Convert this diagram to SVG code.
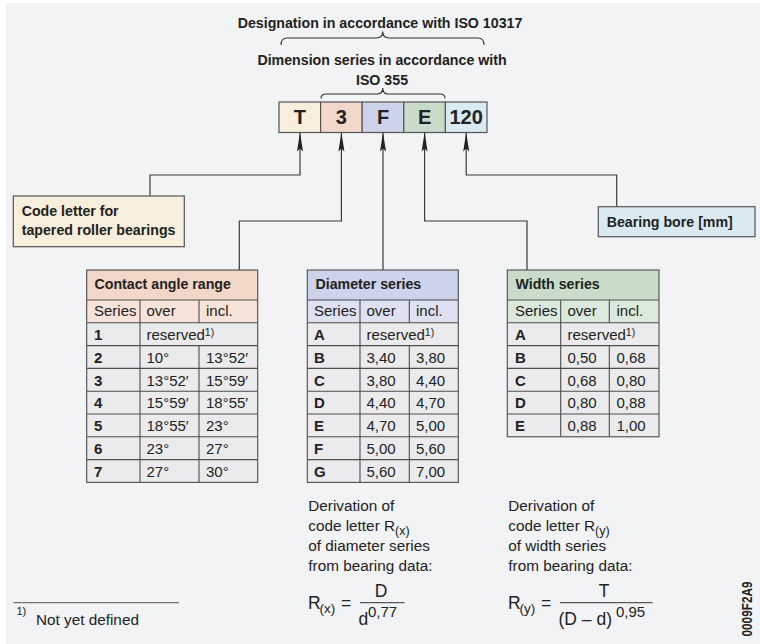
<svg xmlns="http://www.w3.org/2000/svg" width="760" height="644" viewBox="0 0 760 644">
<defs>
<style>
text{font-family:"Liberation Sans",Arial,sans-serif;fill:#222}
.b{font-weight:bold;font-size:14.2px}
.t{font-size:15px}
.tb{font-size:15px;font-weight:bold}
.d{font-size:15.3px}
.f{font-size:17.5px}
.sup{font-size:10.5px}
.code{font-size:20px;font-weight:bold;text-anchor:middle}
.box{stroke:#555;stroke-width:1.2}
.grid{stroke:#4d4d4d;stroke-width:1.1;fill:none}
.con{stroke:#3a3a3a;stroke-width:1.2;fill:none}
.brace{stroke:#333;stroke-width:1.1;fill:none}
</style>
<marker id="ah" viewBox="0 -4 20 8" refX="19" refY="0" markerWidth="20" markerHeight="8" markerUnits="userSpaceOnUse" orient="auto">
<path d="M0,-3 L19,0 L0,3 L3,0 z" fill="#222"/>
</marker>
</defs>
<rect x="6" y="3" width="754" height="641" fill="#f2f3f5"/>

<g id="title">
<text class="b" x="380" y="28" text-anchor="middle">Designation in accordance with ISO 10317</text>
<path class="brace" d="M281,45 Q281,38 287,38 L376,38 Q382.7,38 382.7,31.5 Q382.7,38 389,38 L478,38 Q484,38 484,45"/>
<text class="b" x="382" y="65" text-anchor="middle">Dimension series in accordance with</text>
<text class="b" x="382" y="85" text-anchor="middle">ISO 355</text>
<path class="brace" d="M321,98.5 Q321,94 326,94 L377,94 Q382.7,94 382.7,88 Q382.7,94 388,94 L440,94 Q445,94 445,98.5"/>
</g>

<g id="code">
<rect class="box" x="279" y="102" width="41.6" height="30.5" fill="#f7eedb"/>
<rect class="box" x="320.6" y="102" width="41.6" height="30.5" fill="#f2d7ca"/>
<rect class="box" x="362.2" y="102" width="41.6" height="30.5" fill="#cdd3ea"/>
<rect class="box" x="403.8" y="102" width="41.6" height="30.5" fill="#c9dccb"/>
<rect class="box" x="445.4" y="102" width="41.6" height="30.5" fill="#daeaf3"/>
<text class="code" x="299.8" y="124">T</text>
<text class="code" x="341.4" y="124">3</text>
<text class="code" x="383" y="124">F</text>
<text class="code" x="424.6" y="124">E</text>
<text class="code" x="466.2" y="124">120</text>
</g>

<g id="connectors">
<path class="con" marker-end="url(#ah)" d="M150,196 V175 H300 V132.5"/>
<path class="con" marker-end="url(#ah)" d="M239.3,270 V221 H341.4 V132.5"/>
<path class="con" marker-end="url(#ah)" d="M383,270 V132.5"/>
<path class="con" marker-end="url(#ah)" d="M527,270 V221 H424.6 V132.5"/>
<path class="con" marker-end="url(#ah)" d="M616.7,206.7 V175 H466.2 V132.5"/>
</g>

<g id="codeletter">
<rect class="box" x="13.3" y="196" width="171" height="50.7" fill="#f7eedb"/>
<text class="b" x="21.7" y="216">Code letter for</text>
<text class="b" x="21.7" y="234.5">tapered roller bearings</text>
</g>

<g id="bore">
<rect class="box" x="598.3" y="206.7" width="156.7" height="30" fill="#daeaf3"/>
<text class="b" x="606.7" y="227">Bearing bore [mm]</text>
</g>

<g id="contact">
<rect x="86.7" y="270" width="171" height="30" fill="#f2d6c7"/>
<rect x="86.7" y="300" width="171" height="22.8" fill="#f7e3d9"/>
<rect x="86.7" y="322.8" width="171" height="159.6" fill="#ebebed"/>
<rect class="grid" x="86.7" y="270" width="171" height="212.4"/>
<path class="grid" d="M86.7,300H257.7M86.7,322.8H257.7M86.7,345.6H257.7M86.7,368.4H257.7M86.7,391.2H257.7M86.7,414H257.7M86.7,436.8H257.7M86.7,459.6H257.7M140,300V482.4M199,300V322.8M199,345.6V482.4"/>
<text class="b" x="94.5" y="289">Contact angle range</text>
<text class="t" x="94" y="316">Series</text><text class="t" x="146.5" y="316">over</text><text class="t" x="206" y="316">incl.</text>
<text class="tb" x="94" y="340">1</text><text class="t" x="146.5" y="340">reserved<tspan class="sup" dy="-4.5">1)</tspan></text>
<text class="tb" x="94" y="362.8">2</text><text class="t" x="146.5" y="362.8">10°</text><text class="t" x="206" y="362.8">13°52′</text>
<text class="tb" x="94" y="385.6">3</text><text class="t" x="146.5" y="385.6">13°52′</text><text class="t" x="206" y="385.6">15°59′</text>
<text class="tb" x="94" y="408.4">4</text><text class="t" x="146.5" y="408.4">15°59′</text><text class="t" x="206" y="408.4">18°55′</text>
<text class="tb" x="94" y="431.2">5</text><text class="t" x="146.5" y="431.2">18°55′</text><text class="t" x="206" y="431.2">23°</text>
<text class="tb" x="94" y="454">6</text><text class="t" x="146.5" y="454">23°</text><text class="t" x="206" y="454">27°</text>
<text class="tb" x="94" y="476.8">7</text><text class="t" x="146.5" y="476.8">27°</text><text class="t" x="206" y="476.8">30°</text>
</g>

<g id="diameter">
<rect x="307.3" y="270" width="151" height="30" fill="#cdd3ea"/>
<rect x="307.3" y="300" width="151" height="22.8" fill="#dde1f1"/>
<rect x="307.3" y="322.8" width="151" height="159.6" fill="#ebebed"/>
<rect class="grid" x="307.3" y="270" width="151" height="212.4"/>
<path class="grid" d="M307.3,300H458.3M307.3,322.8H458.3M307.3,345.6H458.3M307.3,368.4H458.3M307.3,391.2H458.3M307.3,414H458.3M307.3,436.8H458.3M307.3,459.6H458.3M360,300V482.4M409.3,300V322.8M409.3,345.6V482.4"/>
<text class="b" x="315.5" y="289">Diameter series</text>
<text class="t" x="314" y="316">Series</text><text class="t" x="366.5" y="316">over</text><text class="t" x="416" y="316">incl.</text>
<text class="tb" x="314" y="340">A</text><text class="t" x="366.5" y="340">reserved<tspan class="sup" dy="-4.5">1)</tspan></text>
<text class="tb" x="314" y="362.8">B</text><text class="t" x="366.5" y="362.8">3,40</text><text class="t" x="416" y="362.8">3,80</text>
<text class="tb" x="314" y="385.6">C</text><text class="t" x="366.5" y="385.6">3,80</text><text class="t" x="416" y="385.6">4,40</text>
<text class="tb" x="314" y="408.4">D</text><text class="t" x="366.5" y="408.4">4,40</text><text class="t" x="416" y="408.4">4,70</text>
<text class="tb" x="314" y="431.2">E</text><text class="t" x="366.5" y="431.2">4,70</text><text class="t" x="416" y="431.2">5,00</text>
<text class="tb" x="314" y="454">F</text><text class="t" x="366.5" y="454">5,00</text><text class="t" x="416" y="454">5,60</text>
<text class="tb" x="314" y="476.8">G</text><text class="t" x="366.5" y="476.8">5,60</text><text class="t" x="416" y="476.8">7,00</text>
</g>

<g id="width">
<rect x="507.3" y="270" width="151.7" height="30" fill="#c8dcc9"/>
<rect x="507.3" y="300" width="151.7" height="22.8" fill="#dbe8dc"/>
<rect x="507.3" y="322.8" width="151.7" height="114" fill="#ebebed"/>
<rect class="grid" x="507.3" y="270" width="151.7" height="166.8"/>
<path class="grid" d="M507.3,300H659M507.3,322.8H659M507.3,345.6H659M507.3,368.4H659M507.3,391.2H659M507.3,414H659M560.7,300V436.8M609.3,300V322.8M609.3,345.6V436.8"/>
<text class="b" x="515.5" y="289">Width series</text>
<text class="t" x="515" y="316">Series</text><text class="t" x="567.5" y="316">over</text><text class="t" x="616.5" y="316">incl.</text>
<text class="tb" x="515" y="340">A</text><text class="t" x="567.5" y="340">reserved<tspan class="sup" dy="-4.5">1)</tspan></text>
<text class="tb" x="515" y="362.8">B</text><text class="t" x="567.5" y="362.8">0,50</text><text class="t" x="616.5" y="362.8">0,68</text>
<text class="tb" x="515" y="385.6">C</text><text class="t" x="567.5" y="385.6">0,68</text><text class="t" x="616.5" y="385.6">0,80</text>
<text class="tb" x="515" y="408.4">D</text><text class="t" x="567.5" y="408.4">0,80</text><text class="t" x="616.5" y="408.4">0,88</text>
<text class="tb" x="515" y="431.2">E</text><text class="t" x="567.5" y="431.2">0,88</text><text class="t" x="616.5" y="431.2">1,00</text>
</g>

<g id="deriv-x">
<text class="d" x="308.3" y="511">Derivation of</text>
<text class="d" x="308.3" y="531">code letter R<tspan font-size="12.5" dy="3.5">(x)</tspan></text>
<text class="d" x="308.3" y="551">of diameter series</text>
<text class="d" x="308.3" y="571">from bearing data:</text>
<text class="f" x="308" y="609">R</text>
<text font-size="13.5" x="319.5" y="613">(x)</text>
<text class="f" x="341" y="609">=</text>
<line x1="360" y1="602.7" x2="404.5" y2="602.7" stroke="#333" stroke-width="1"/>
<text class="f" x="381" y="597" text-anchor="middle">D</text>
<text class="f" x="358.5" y="625">d</text>
<text font-size="15" x="368" y="617">0,77</text>
</g>

<g id="deriv-y">
<text class="d" x="508.3" y="511">Derivation of</text>
<text class="d" x="508.3" y="531">code letter R<tspan font-size="12.5" dy="3.5">(y)</tspan></text>
<text class="d" x="508.3" y="551">of width series</text>
<text class="d" x="508.3" y="571">from bearing data:</text>
<text class="f" x="508" y="609">R</text>
<text font-size="13.5" x="519.5" y="613">(y)</text>
<text class="f" x="541" y="609">=</text>
<line x1="560" y1="602.7" x2="652.7" y2="602.7" stroke="#333" stroke-width="1"/>
<text class="f" x="604" y="597" text-anchor="middle">T</text>
<text class="f" x="558.5" y="625">(D – d)</text>
<text font-size="15" x="616" y="617">0,95</text>
</g>

<g id="footnote">
<line x1="13.3" y1="602.7" x2="179" y2="602.7" stroke="#555" stroke-width="1"/>
<text font-size="11" x="16.5" y="615">1)</text>
<text class="d" x="36" y="625">Not yet defined</text>
</g>

<text font-size="14" font-weight="bold" text-anchor="middle" textLength="55" lengthAdjust="spacingAndGlyphs" transform="translate(751.5,609) rotate(-90)">0009F2A9</text>
</svg>
